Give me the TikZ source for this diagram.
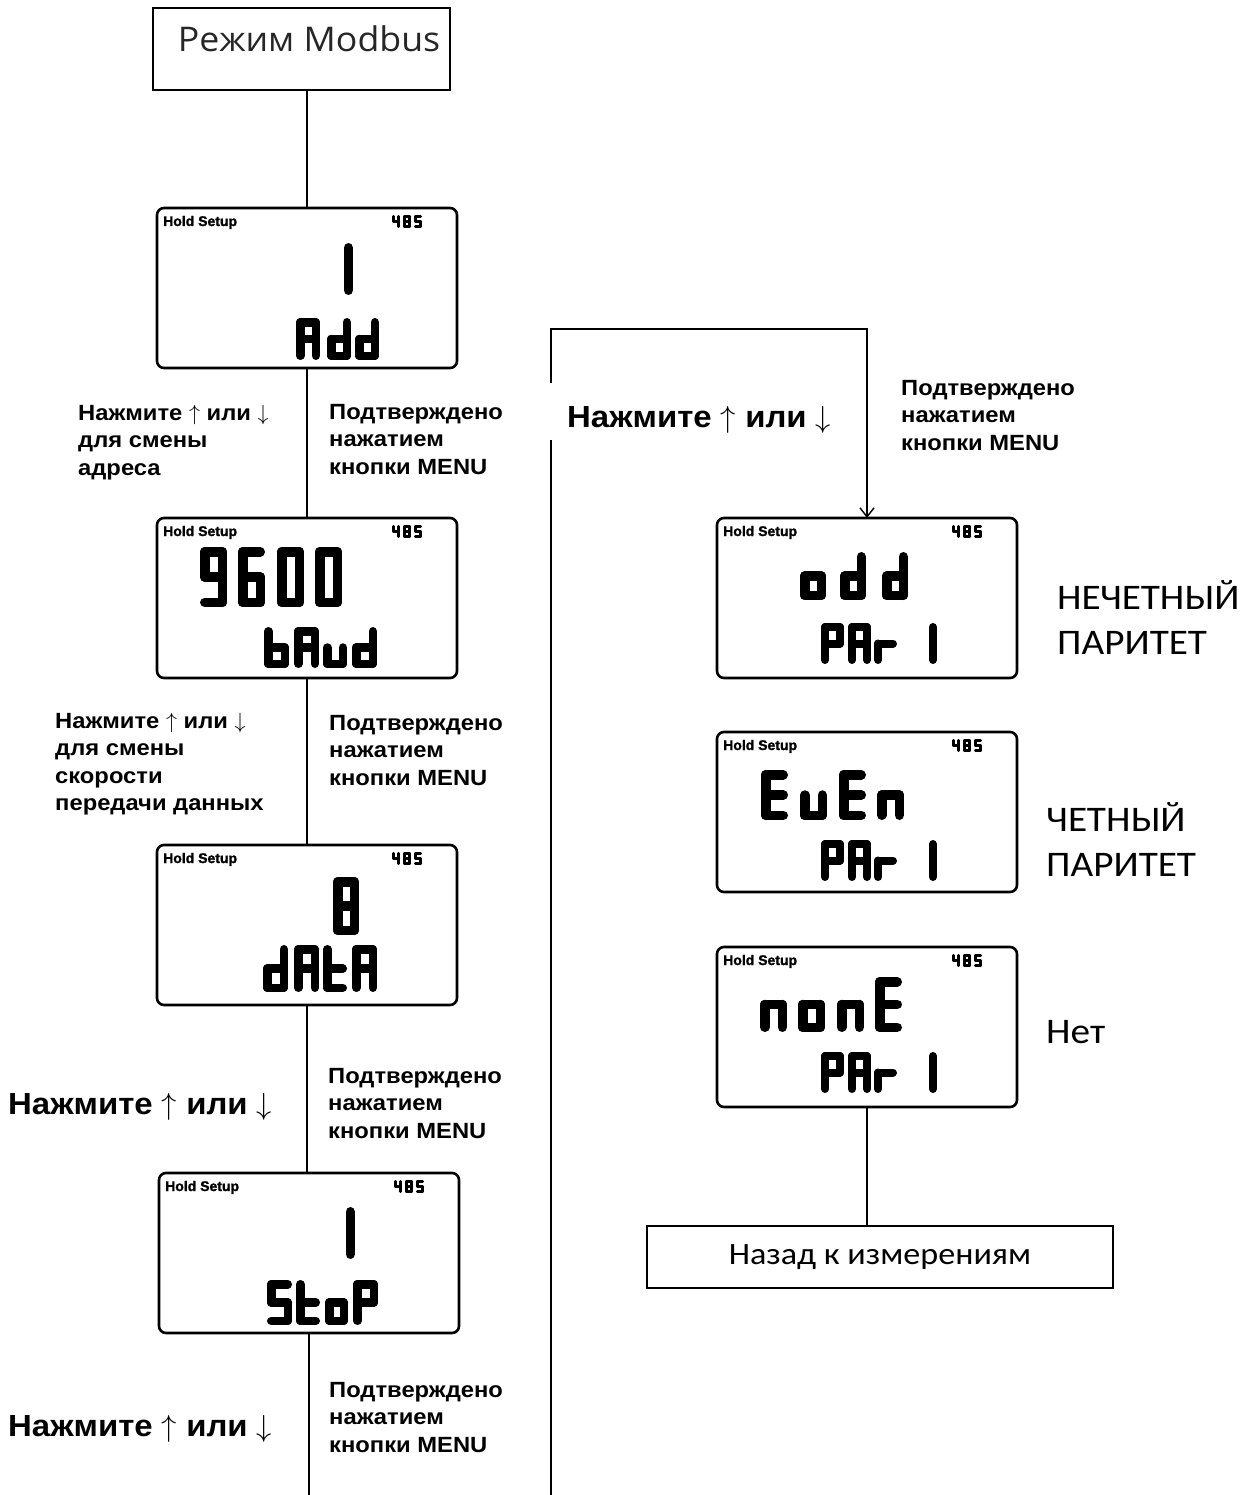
\documentclass[tikz,border=0pt]{standalone}
\usepackage{fix-cm}
\usepackage{fontspec}
\setmainfont{Liberation Sans}
\newfontfamily\labfont[FakeStretch=1.08]{Liberation Sans}
\newfontfamily\hdrfont[BoldFeatures={FakeBold=1.5}]{Liberation Sans}
\newfontfamily\osans[FakeStretch=1.05]{Open Sans}
\newfontfamily\carl[FakeStretch=1.09]{Carlito}
\newfontfamily\carlw[FakeStretch=1.1]{Carlito}
\usetikzlibrary{arrows.meta,calc}
% seven-segment glyph: #1 x, #2 y (top-left, local), #3 width, #4 height, #5 stroke, #6 segments
\newcommand\lcdch[6]{%
 \begin{scope}[line width=#5pt, line cap=round, line join=round]
 \pgfmathsetmacro\lcdL{#1+#5/2}%
 \pgfmathsetmacro\lcdR{#1+#3-#5/2}%
 \pgfmathsetmacro\lcdT{#2+#5/2}%
 \pgfmathsetmacro\lcdB{#2+#4-#5/2}%
 \pgfmathsetmacro\lcdM{#2+#4/2}%
 #6%
 \end{scope}}
\newcommand\lsa{\draw (\lcdL,\lcdT)--(\lcdR,\lcdT);}
\newcommand\lsb{\draw (\lcdR,\lcdT)--(\lcdR,\lcdM);}
\newcommand\lsc{\draw (\lcdR,\lcdM)--(\lcdR,\lcdB);}
\newcommand\lsd{\draw (\lcdL,\lcdB)--(\lcdR,\lcdB);}
\newcommand\lse{\draw (\lcdL,\lcdM)--(\lcdL,\lcdB);}
\newcommand\lsf{\draw (\lcdL,\lcdT)--(\lcdL,\lcdM);}
\newcommand\lsg{\draw (\lcdL,\lcdM)--(\lcdR,\lcdM);}
\newcommand\lcgA{\lsa\lsb\lsc\lse\lsf\lsg}
\newcommand\lcgd{\lsb\lsc\lsd\lse\lsg}
\newcommand\lcgb{\lsc\lsd\lse\lsf\lsg}
\newcommand\lcgu{\lsc\lsd\lse}
\newcommand\lcgo{\lsc\lsd\lse\lsg}
\newcommand\lcgt{\lsd\lse\lsf\lsg}
\newcommand\lcgS{\lsa\lsf\lsg\lsc\lsd}
\newcommand\lcgP{\lsa\lsb\lse\lsf\lsg}
\newcommand\lcgr{\lse\lsg}
\newcommand\lcgn{\lsc\lse\lsg}
\newcommand\lcgE{\lsa\lsd\lse\lsf\lsg}
\newcommand\lcgone{\lsb\lsc}
\newcommand\lcgnine{\lsa\lsb\lsc\lsd\lsf\lsg}
\newcommand\lcgsix{\lsa\lsc\lsd\lse\lsf\lsg}
\newcommand\lcgzero{\lsa\lsb\lsc\lsd\lse\lsf}
\newcommand\lcgeight{\lsa\lsb\lsc\lsd\lse\lsf\lsg}
\newcommand\lcgfour{\lsb\lsc\lsf\lsg}
\newcommand\lcghead{%
 \node[hdr] at (6,18) {Hold Setup};
 \lcdch{235}{7}{8}{13}{2.8}{\lcgfour}
 \lcdch{246}{7}{8}{13}{2.8}{\lcgeight}
 \lcdch{257}{7}{8}{13}{2.8}{\lcgS}}
\newcommand\lcgpar[1]{%
 \lcdch{104}{#1}{23}{41}{8}{\lcgP}
 \lcdch{131}{#1}{23}{41}{8}{\lcgA}
 \lcdch{157}{#1}{23}{41}{8}{\lcgr}
 \lcdch{196}{#1}{24}{41}{8}{\lcgone}}
\newcommand\updn{Нажмите $\uparrow$ или $\downarrow$}
\begin{document}
\begin{tikzpicture}[x=1pt,y=-1pt,
  conn/.style={line width=1.4pt},
  lcd/.style={draw, line width=2.6pt, rounded corners=7pt, minimum width=300pt, minimum height=160pt, inner sep=0pt, outer sep=0pt},
  plainbox/.style={draw, line width=1.4pt, inner sep=0pt, outer sep=0pt},
  lbl/.style={font=\labfont\bfseries\fontsize{22}{27.5}\selectfont, align=left, anchor=base west, inner sep=0pt},
  biglbl/.style={font=\labfont\bfseries\fontsize{30.5}{35}\selectfont, anchor=base west, inner sep=0pt},
  hdr/.style={font=\hdrfont\bfseries\fontsize{14}{14}\selectfont, anchor=base west, inner sep=0pt},
  rlbl/.style={font=\carl\fontsize{36}{45}\selectfont, align=left, anchor=base west, inner sep=0pt}]
\useasboundingbox (0,0) rectangle (1245,1495);
% boxes
\node[plainbox, minimum width=297pt, text height=44pt, text depth=38pt, anchor=base,
      font=\osans\fontsize{34}{34}\selectfont, text=black!85] (mb) at (301.5,52) {\hspace*{15pt}Режим Modbus};
\node[plainbox, minimum width=466pt, minimum height=62pt, font=\carlw\fontsize{31}{31}\selectfont] (back) at (880,1257) {Назад к измерениям};
\node[lcd] (add)  at (307,288) {};
\node[lcd] (baud) at (307,598) {};
\node[lcd] (data) at (307,925) {};
\node[lcd] (stop) at (309,1253) {};
\node[lcd] (odd)  at (867,598) {};
\node[lcd] (even) at (867,812) {};
\node[lcd] (none) at (867,1027) {};
% display contents
\begin{scope}[shift={(add.north west)}]
 \lcghead
 \lcdch{169}{35}{27}{52}{9.5}{\lcgone}
 \lcdch{139}{110}{24}{42}{8.5}{\lcgA}
 \lcdch{170}{110}{24}{42}{8.5}{\lcgd}
 \lcdch{198}{110}{24}{42}{8.5}{\lcgd}
\end{scope}
\begin{scope}[shift={(baud.north west)}]
 \lcghead
 \lcdch{43}{29}{27}{60}{9.5}{\lcgnine}
 \lcdch{81}{29}{27}{60}{9.5}{\lcgsix}
 \lcdch{120}{29}{27}{60}{9.5}{\lcgzero}
 \lcdch{158}{29}{27}{60}{9.5}{\lcgzero}
 \lcdch{107}{109}{25}{41}{8.5}{\lcgb}
 \lcdch{137}{109}{25}{41}{8.5}{\lcgA}
 \lcdch{166}{109}{24}{41}{8.5}{\lcgu}
 \lcdch{195}{109}{25}{41}{8.5}{\lcgd}
\end{scope}
\begin{scope}[shift={(data.north west)}]
 \lcghead
 \lcdch{176}{32}{26}{58}{9.5}{\lcgeight}
 \lcdch{106}{100}{25}{47}{8.5}{\lcgd}
 \lcdch{137}{100}{25}{47}{8.5}{\lcgA}
 \lcdch{166}{100}{24}{47}{8.5}{\lcgt}
 \lcdch{195}{100}{25}{47}{8.5}{\lcgA}
\end{scope}
\begin{scope}[shift={(stop.north west)}]
 \lcghead
 \lcdch{169}{34}{27}{52}{9.5}{\lcgone}
 \lcdch{108}{107}{25}{45}{8.5}{\lcgS}
 \lcdch{137}{107}{24}{45}{8.5}{\lcgt}
 \lcdch{166}{107}{23}{45}{8.5}{\lcgo}
 \lcdch{194}{107}{25}{45}{8.5}{\lcgP}
\end{scope}
\begin{scope}[shift={(odd.north west)}]
 \lcghead
 \lcdch{83}{34}{26}{48}{9.5}{\lcgo}
 \lcdch{123}{34}{26}{48}{9.5}{\lcgd}
 \lcdch{165}{34}{26}{48}{9.5}{\lcgd}
 \lcgpar{105}
\end{scope}
\begin{scope}[shift={(even.north west)}]
 \lcghead
 \lcdch{44}{38}{27}{50}{9.5}{\lcgE}
 \lcdch{83}{38}{27}{50}{9.5}{\lcgu}
 \lcdch{122}{38}{27}{50}{9.5}{\lcgE}
 \lcdch{160}{38}{27}{50}{9.5}{\lcgn}
 \lcgpar{108}
\end{scope}
\begin{scope}[shift={(none.north west)}]
 \lcghead
 \lcdch{43}{30}{27}{55}{9.5}{\lcgn}
 \lcdch{81}{30}{27}{55}{9.5}{\lcgo}
 \lcdch{120}{30}{27}{55}{9.5}{\lcgn}
 \lcdch{158}{30}{27}{55}{9.5}{\lcgE}
 \lcgpar{105}
\end{scope}
% connectors
\coordinate (stopend) at (309,1495);
\coordinate (lpb) at (551,1495);
\coordinate (lpg1) at (551,440);
\coordinate (lpg2) at (551,383);
\coordinate (lpt) at (551,329);
\draw[conn] (mb.south -| add.north) -- (add.north);
\draw[conn] (add.south) -- (baud.north);
\draw[conn] (baud.south) -- (data.north);
\draw[conn] (data.south) -- (data.south |- stop.north);
\draw[conn] (stop.south) -- (stopend);
\draw[conn] (lpb) -- (lpg1);
\draw[conn, -{Straight Barb[length=9pt,width=14pt]}] (lpg2) -- (lpt) -| (odd.north);
\draw[conn] (none.south) -- (none.south |- back.north);
% labels (anchor = baseline of the last line)
\node[lbl] (l1) at (78,475) {\updn\\для смены\\адреса};
\node[lbl] (r1) at (329,474) {Подтверждено\\нажатием\\кнопки MENU};
\node[lbl] (l2) at (55,810.5) {\updn\\для смены\\скорости\\передачи данных};
\node[lbl] (r2) at (329,785) {Подтверждено\\нажатием\\кнопки MENU};
\node[biglbl] (l3) at (8,1114) {\updn};
\node[lbl] (r3) at (328,1138) {Подтверждено\\нажатием\\кнопки MENU};
\node[biglbl] (l4) at (8,1436) {\updn};
\node[lbl] (r4) at (329,1452) {Подтверждено\\нажатием\\кнопки MENU};
\node[biglbl] (l5) at (567,427) {\updn};
\node[lbl] (r5) at (901,450) {Подтверждено\\нажатием\\кнопки MENU};
\node[rlbl] (p1) at (1057,654) {НЕЧЕТНЫЙ\\ПАРИТЕТ};
\node[rlbl] (p2) at (1046,876) {ЧЕТНЫЙ\\ПАРИТЕТ};
\node[rlbl] (p3) at (1046,1043) {Нет};
\end{tikzpicture}
\end{document}
